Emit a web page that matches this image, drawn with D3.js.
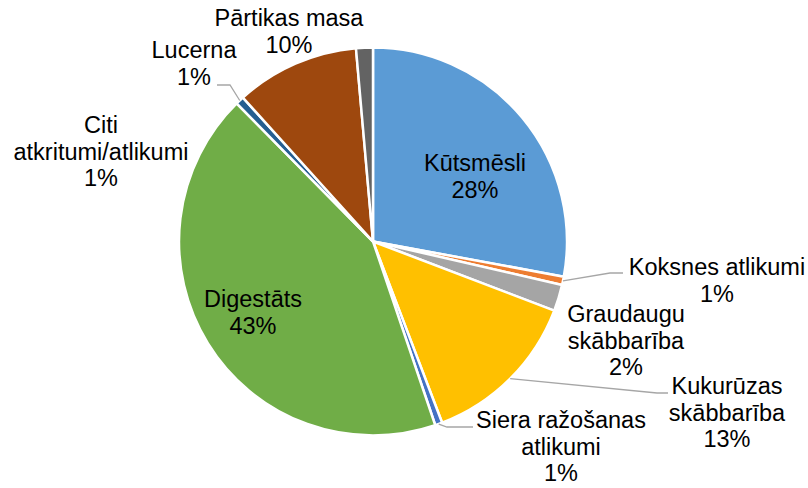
<!DOCTYPE html>
<html>
<head>
<meta charset="utf-8">
<script src="https://cdn.jsdelivr.net/npm/d3@7"></script>
<style>
  body { margin: 0; background: #fff; }
  svg text { font-family: Arial, "Liberation Sans", sans-serif; font-size: 23.5px; fill: #000; }
</style>
</head>
<body>
<svg id="chart" width="808" height="488"></svg>
<script>
const categories = [
  "Kūtsmēsli",
  "Koksnes atlikumi",
  "Graudaugu skābbarība",
  "Kukurūzas skābbarība",
  "Siera ražošanas atlikumi",
  "Digestāts",
  "Lucerna",
  "Pārtikas masa",
  "Citi atkritumi/atlikumi"
];
const shares = [27.9, 0.7, 2.2, 13.4, 0.6, 42.8, 0.7, 10.3, 1.4];
const colors = ["#5B9BD5", "#ED7D31", "#A5A5A5", "#FFC000", "#4472C4", "#70AD47", "#255E91", "#9E480E", "#636363"];

// where each label sits: centre x, first baseline, words per line, optional leader elbow
const labelLayout = [
  { x: 475, y: 171, words: [1] },
  { x: 717, y: 275, words: [2], leader: { ex: 610, ey: 273, hx: 623 } },
  { x: 626, y: 322, words: [1, 1] },
  { x: 727, y: 394, words: [1, 1], leader: { ex: 657, ey: 393, hx: 668 } },
  { x: 561, y: 428, words: [2, 1], leader: { ex: 447, ey: 427, hx: 473 } },
  { x: 253, y: 307, words: [1] },
  { x: 194, y: 58, words: [1], leader: { ex: 230, ey: 85, hx: 217 } },
  { x: 289, y: 26, words: [2] },
  { x: 101, y: 133, words: [1, 1] }
];

const svg = d3.select("#chart");
const cx = 373, cy = 241.5, radius = 194;
const lineGap = 26.5;

const total = d3.sum(shares);
const pie = d3.pie().sort(null).value((d) => d);
const arc = d3.arc().innerRadius(0).outerRadius(radius);
const arcs = pie(shares);

const g = svg.append("g").attr("transform", `translate(${cx},${cy})`);

g.selectAll("path.slice")
  .data(arcs)
  .enter()
  .append("path")
  .attr("class", "slice")
  .attr("d", arc)
  .attr("fill", (d, i) => colors[i])
  .attr("stroke", "#fff")
  .attr("stroke-width", 2.5);

// leader lines from the outer edge at mid angle
arcs.forEach((d, i) => {
  const lay = labelLayout[i];
  if (!lay.leader) return;
  const a = (d.startAngle + d.endAngle) / 2;
  const sx = cx + Math.sin(a) * radius;
  const sy = cy - Math.cos(a) * radius;
  svg.append("polyline")
    .attr("points", [[sx, sy], [lay.leader.ex, lay.leader.ey], [lay.leader.hx, lay.leader.ey]].join(" "))
    .attr("fill", "none")
    .attr("stroke", "#A6A6A6")
    .attr("stroke-width", 1.3);
});

// labels
arcs.forEach((d, i) => {
  const lay = labelLayout[i];
  const words = categories[i].split(" ");
  const lines = [];
  let k = 0;
  lay.words.forEach((n) => {
    lines.push(words.slice(k, k + n).join(" "));
    k += n;
  });
  lines.push(Math.round((d.data / total) * 100) + "%");

  const text = svg.append("text")
    .attr("text-anchor", "middle")
    .attr("x", lay.x)
    .attr("y", lay.y);
  lines.forEach((l, j) => {
    text.append("tspan")
      .attr("x", lay.x)
      .attr("y", lay.y + j * lineGap)
      .text(l);
  });
});
</script>
</body>
</html>
